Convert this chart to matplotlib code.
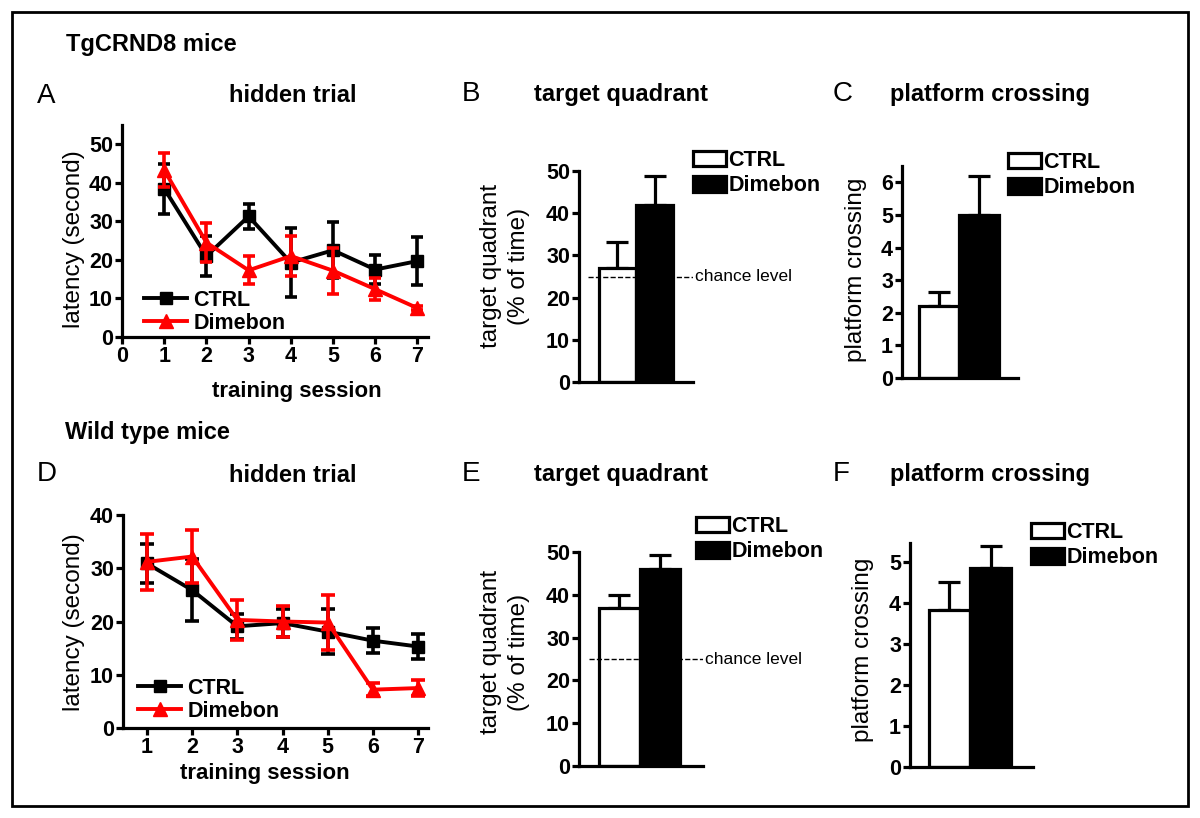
import matplotlib
matplotlib.use("Agg")
import matplotlib.pyplot as plt
from matplotlib.patches import Patch, Rectangle
from matplotlib.lines import Line2D

plt.rcParams['font.family'] = ['Liberation Sans', 'DejaVu Sans']

# ---- data ----
sessions = [1, 2, 3, 4, 5, 6, 7]

# TgCRND8 mice, hidden trial latency (s)
tg_ctrl = [38.5, 21.0, 31.3, 19.3, 22.5, 17.5, 19.7]
tg_ctrl_err = [6.5, 5.2, 3.3, 9.0, 7.3, 3.7, 6.2]
tg_dime = [43.3, 24.5, 17.3, 21.0, 17.2, 12.4, 7.5]
tg_dime_err = [4.5, 5.0, 3.6, 5.2, 6.0, 2.8, 0.6]

# Wild type mice, hidden trial latency (s)
wt_ctrl = [30.9, 25.9, 19.1, 19.7, 18.1, 16.4, 15.3]
wt_ctrl_err = [3.6, 5.8, 2.3, 2.6, 4.2, 2.3, 2.4]
wt_dime = [31.2, 32.2, 20.3, 20.0, 19.8, 7.2, 7.5]
wt_dime_err = [5.2, 5.0, 3.8, 3.0, 5.2, 1.2, 1.5]

groups = ['CTRL', 'Dimebon']
tg_quadrant = [27.0, 41.9]
tg_quadrant_err = [6.2, 6.8]
tg_crossing = [2.2, 5.0]
tg_crossing_err = [0.45, 1.2]
wt_quadrant = [36.9, 46.0]
wt_quadrant_err = [3.1, 3.4]
wt_crossing = [3.82, 4.84]
wt_crossing_err = [0.7, 0.55]
chance = 25

W, H = 1200, 818
fig = plt.figure(figsize=(W / 100, H / 100), dpi=100)

def box(l, r, t, b):
    return [l / W, 1 - b / H, (r - l) / W, (b - t) / H]

def fx(x):
    return x / W

def fy(y):
    return 1 - y / H

LW = 2.3
TICK = 15.5
LEG = 15.5
LAB = 17.5

def style(ax, xticks=True):
    for s in ['top', 'right']:
        ax.spines[s].set_visible(False)
    for s in ['left', 'bottom']:
        ax.spines[s].set_linewidth(LW)
    ax.tick_params(width=LW, length=5, labelsize=TICK, pad=1.5)
    for t in ax.get_xticklabels() + ax.get_yticklabels():
        t.set_fontweight('bold')
    if not xticks:
        ax.set_xticks([])

def ylab(ax, text, x, y):
    ax.set_ylabel(text, fontsize=LAB, va='center', ha='center', linespacing=1.35)
    ax.yaxis.set_label_coords(fx(x), fy(y), transform=fig.transFigure)

def line_panel(ax, ctrl, ctrl_err, dime, dime_err, cap):
    ax.errorbar(sessions, ctrl, yerr=ctrl_err, color='black', lw=2.8, marker='s',
                ms=9, capsize=cap, capthick=2.6, elinewidth=2.6, zorder=2)
    ax.errorbar(sessions, dime, yerr=dime_err, color='#ff0000', lw=2.8, marker='^',
                ms=10, capsize=cap, capthick=2.6, elinewidth=2.6, zorder=3)
    h = [Line2D([], [], color='black', lw=2.8, marker='s', ms=9),
         Line2D([], [], color='#ff0000', lw=2.8, marker='^', ms=10)]
    return h

def bar_panel(ax, vals, errs):
    x = [0, 1]
    ax.bar(x, vals, width=1.0, color=['white', 'black'], edgecolor='black', lw=LW, zorder=2)
    for xi, v, e in zip(x, vals, errs):
        ax.errorbar(xi, v, yerr=[[0], [e]], color='black', capsize=8, capthick=LW,
                    elinewidth=LW, zorder=1)

def bar_legend(x, y):
    h = [Patch(facecolor='white', edgecolor='black', lw=LW),
         Patch(facecolor='black', edgecolor='black', lw=LW)]
    fig.legend(h, groups, loc='upper left', bbox_to_anchor=(fx(x), fy(y)), frameon=False,
               prop={'weight': 'bold', 'size': LEG}, handlelength=1.55, handleheight=0.75,
               handletextpad=0.1, labelspacing=0.2, borderpad=0, borderaxespad=0)

# ---- A ----
axA = fig.add_axes(box(122, 428, 125, 337))
h = line_panel(axA, tg_ctrl, tg_ctrl_err, tg_dime, tg_dime_err, 4)
axA.set_xlim(0, 7.25)
axA.set_ylim(0, 55)
axA.set_xticks(range(0, 8))
axA.set_yticks(range(0, 51, 10))
style(axA)
axA.legend(h, groups, loc='lower left', bbox_to_anchor=(fx(144), fy(334)),
           bbox_transform=fig.transFigure, frameon=False,
           prop={'weight': 'bold', 'size': LEG}, handlelength=2.0, labelspacing=0.1,
           handletextpad=0.3, borderpad=0, borderaxespad=0)
axA.set_xlabel('training session', fontsize=16, fontweight='bold')
axA.xaxis.set_label_coords(fx(297), fy(392), transform=fig.transFigure)
axA.xaxis.label.set_va('center')
ylab(axA, 'latency (second)', 74, 239)

# ---- D ----
axD = fig.add_axes(box(123, 428, 515, 728))
h = line_panel(axD, wt_ctrl, wt_ctrl_err, wt_dime, wt_dime_err, 5)
axD.set_xlim(0.47, 7.22)
axD.set_ylim(0, 40)
axD.set_xticks(sessions)
axD.set_yticks(range(0, 41, 10))
style(axD)
axD.legend(h, groups, loc='lower left', bbox_to_anchor=(fx(138), fy(722)),
           bbox_transform=fig.transFigure, frameon=False,
           prop={'weight': 'bold', 'size': LEG}, handlelength=2.0, labelspacing=0.1,
           handletextpad=0.3, borderpad=0, borderaxespad=0)
axD.set_xlabel('training session', fontsize=16, fontweight='bold')
axD.xaxis.set_label_coords(fx(265), fy(773), transform=fig.transFigure)
axD.xaxis.label.set_va('center')
ylab(axD, 'latency (second)', 74, 622)

# ---- B ----
axB = fig.add_axes(box(579, 693, 171, 382))
bar_panel(axB, tg_quadrant, tg_quadrant_err)
axB.axhline(chance, xmin=0.08, xmax=1.0, color='black', ls='--', lw=1, zorder=3)
axB.text(2.1, chance, 'chance level', fontsize=12.5, va='center', ha='left')
axB.set_xlim(-1.04, 2.04)
axB.set_ylim(0, 50)
axB.set_yticks(range(0, 51, 10))
style(axB, xticks=False)
ylab(axB, 'target quadrant\n(% of time)', 505, 266)
bar_legend(693, 150)

# ---- C ----
axC = fig.add_axes(box(902, 1018, 166, 378))
bar_panel(axC, tg_crossing, tg_crossing_err)
axC.set_xlim(-0.925, 1.975)
axC.set_ylim(0, 6.5)
axC.set_yticks(range(0, 7))
style(axC, xticks=False)
ylab(axC, 'platform crossing', 856, 270)
bar_legend(1008, 152)

# ---- E ----
axE = fig.add_axes(box(579, 703, 552, 766))
bar_panel(axE, wt_quadrant, wt_quadrant_err)
axE.axhline(chance, xmin=0.08, xmax=1.0, color='black', ls='--', lw=1, zorder=3)
axE.text(2.1, chance, 'chance level', fontsize=12.5, va='center', ha='left')
axE.set_xlim(-0.98, 2.05)
axE.set_ylim(0, 50)
axE.set_yticks(range(0, 51, 10))
style(axE, xticks=False)
ylab(axE, 'target quadrant\n(% of time)', 505, 652)
bar_legend(696, 516)

# ---- F ----
axF = fig.add_axes(box(910, 1033, 543, 767))
bar_panel(axF, wt_crossing, wt_crossing_err)
axF.set_xlim(-0.95, 2.02)
axF.set_ylim(0, 5.46)
axF.set_yticks(range(0, 6))
style(axF, xticks=False)
ylab(axF, 'platform crossing', 863, 650)
bar_legend(1031, 522)

# ---- headings ----
fig.text(fx(66), fy(45), 'TgCRND8 mice', fontsize=17, fontweight='bold', va='center')
fig.text(fx(65), fy(433), 'Wild type mice', fontsize=17, fontweight='bold', va='center')
for letter, x, y in [('A', 37, 96), ('B', 462, 94), ('C', 833, 94),
                     ('D', 37, 474), ('E', 462, 474), ('F', 833, 474)]:
    fig.text(fx(x), fy(y), letter, fontsize=20, va='center', ha='left')
for title, x, y in [('hidden trial', 293, 95), ('target quadrant', 621, 95),
                    ('platform crossing', 990, 95), ('hidden trial', 293, 475),
                    ('target quadrant', 621, 475), ('platform crossing', 990, 475)]:
    fig.text(fx(x), fy(y), title, fontsize=17, fontweight='bold', va='center', ha='center')

# outer frame
fig.patches.append(Rectangle((fx(12), fy(806)), fx(1188) - fx(12), fy(12) - fy(806),
                             transform=fig.transFigure, fill=False, lw=2, ec='black'))

fig.savefig('out.png', dpi=100)
